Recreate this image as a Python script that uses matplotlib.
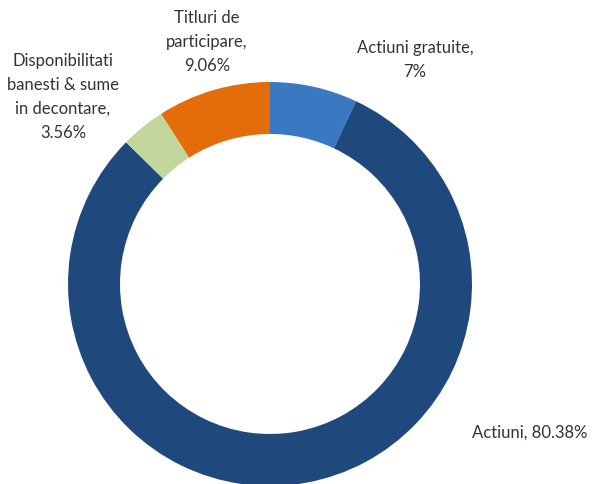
import matplotlib
matplotlib.use('Agg')
import matplotlib.pyplot as plt

labels = ['Actiuni gratuite', 'Actiuni', 'Disponibilitati\nbanesti & sume\nin decontare', 'Titluri de\nparticipare']
values = [7.00, 80.38, 3.56, 9.06]
value_text = ['7%', '80.38%', '3.56%', '9.06%']
colors = ['#3A78C2', '#1F497D', '#C3D69B', '#E46C0A']

# label placement in pixel coords (x, y from bottom) and joiner
label_pos = [(415, 424, '\n'), (530, 51, ' '), (63, 387, '\n'), (207, 442, '\n')]

fig = plt.figure(figsize=(5.92, 4.84), dpi=100)
ax = fig.add_axes([0, 0, 1, 1])
ax.axis('off')

ax.pie(values, colors=colors, startangle=90, counterclock=False,
       center=(270, 200), radius=202,
       wedgeprops=dict(width=52, edgecolor='none'))
ax.set_xlim(0, 592)
ax.set_ylim(0, 484)
ax.set_aspect('auto')

for lab, val, (x, y, sep) in zip(labels, value_text, label_pos):
    ax.text(x, y, lab + ',' + sep + val, ha='center', va='center',
            fontsize=12, family='Lato', color='#333333', linespacing=1.6)

fig.savefig('out.png', dpi=100)
